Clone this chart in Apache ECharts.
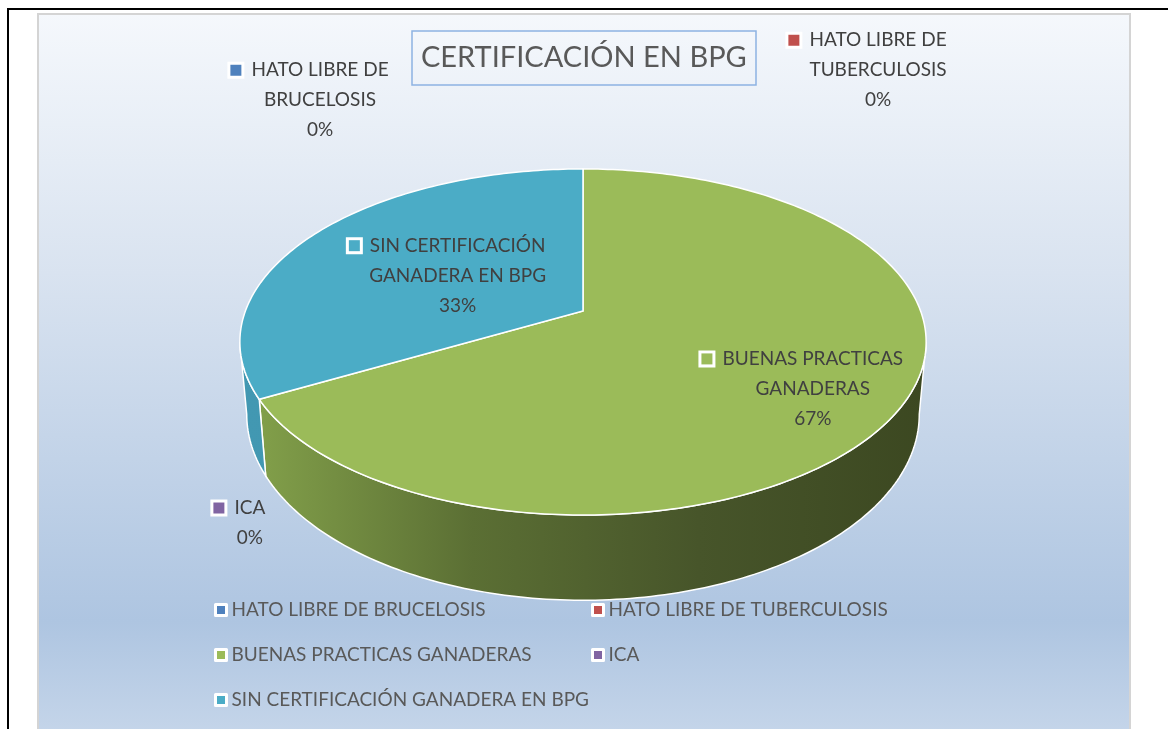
<!DOCTYPE html>
<html>
<head>
<meta charset="utf-8">
<title>Certificación en BPG</title>
<script src="https://cdn.jsdelivr.net/npm/echarts@6/dist/echarts.min.js"></script>
<style>
  html, body { margin: 0; padding: 0; background: #fff; }
  #chart { width: 1168px; height: 729px; }
</style>
</head>
<body>
<div id="chart"></div>
<script>
  // datos del grafico
  const CATEGORIES = [
    'HATO LIBRE DE BRUCELOSIS',
    'HATO LIBRE DE TUBERCULOSIS',
    'BUENAS PRACTICAS GANADERAS',
    'ICA',
    'SIN CERTIFICACIÓN GANADERA EN BPG'
  ];
  const VALUES = [0, 0, 67, 0, 33];
  // nombres partidos en lineas para las etiquetas
  const LABEL_NAMES = [
    'HATO LIBRE DE\nBRUCELOSIS',
    'HATO LIBRE DE\nTUBERCULOSIS',
    'BUENAS PRACTICAS\nGANADERAS',
    'ICA',
    'SIN CERTIFICACIÓN\nGANADERA EN BPG'
  ];
  const COLORS = ['#4f81bd', '#c0504d', '#9bbb59', '#8064a2', '#4bacc6'];
  const SIDE_COLORS = [
    ['#4a78b0', '#3c6190'],
    ['#b24a47', '#8f3a38'],
    ['#84a24b', '#5b6f34', '#47552a', '#3c4821'],
    ['#775d97', '#5f4a79'],
    ['#4298b2', '#3a8aa3']
  ];

  // geometria del pastel 3D (perspectiva simple)
  const CX = 583, CY = 311, R = 337.6, A = 167.5, K = 0.179, H0 = 70, SHRINK = 0.98;
  const SIL_R = Math.acos(-K) * 180 / Math.PI;   // borde derecho visible
  const SIL_L = 360 - SIL_R;                       // borde izquierdo visible
  const LABEL_R = [1.15, 1.15, 0.65, 1.15, 0.65];
  const LABEL_OFFSET = [[-263, -51], [295, -81], [29, 19], [44.5, 109], [53, 17]];

  const total = VALUES.reduce((s, v) => s + v, 0);

  function sliceAngles(i) {
    let start = 0;
    for (let j = 0; j < i; j++) start += VALUES[j] / total * 360;
    return [start, start + VALUES[i] / total * 360];
  }

  function project(deg, f, bottom) {
    const t = deg * Math.PI / 180;
    const c = Math.cos(t) * f, sn = Math.sin(t) * f;
    const s = 1 / (1 + K * c);
    return [
      CX + R * sn * s * (bottom ? SHRINK : 1),
      CY - A * c * s + (bottom ? H0 * s : 0)
    ];
  }

  function arc(a, b, bottom) {
    const pts = [];
    const n = Math.max(2, Math.ceil(Math.abs(b - a)));
    for (let k = 0; k <= n; k++) pts.push(project(a + (b - a) * k / n, 1, bottom));
    return pts;
  }

  function renderSide(params, api) {
    const i = params.dataIndex;
    const [a, b] = sliceAngles(i);
    const lo = Math.max(a, SIL_R), hi = Math.min(b, SIL_L);
    if (VALUES[i] <= 0 || lo >= hi) return { type: 'group', children: [] };
    const pts = arc(lo, hi, false).concat(arc(hi, lo, true));
    const cols = SIDE_COLORS[i];
    return {
      type: 'polygon',
      shape: { points: pts },
      style: {
        fill: {
          type: 'linear', x: CX - R, y: 0, x2: CX + R + 5, y2: 0, global: true,
          colorStops: cols.map((c, k) => ({ offset: k / (cols.length - 1), color: c }))
        },
        stroke: '#fff',
        lineWidth: 1.5
      }
    };
  }

  function renderTop(params, api) {
    const i = params.dataIndex;
    const [a, b] = sliceAngles(i);
    if (VALUES[i] <= 0) return { type: 'group', children: [] };
    const pts = [[CX, CY]].concat(arc(a, b, false));
    return {
      type: 'polygon',
      shape: { points: pts },
      style: { fill: COLORS[i], stroke: '#fff', lineWidth: 1.5 }
    };
  }

  function renderLabel(params, api) {
    const i = params.dataIndex;
    const [a, b] = sliceAngles(i);
    const p = project((a + b) / 2, LABEL_R[i], false);
    const lines = LABEL_NAMES[i].split('\n');
    lines[0] = '{m|}{g|}' + lines[0] + '{p|}';
    const pct = Math.round(VALUES[i] / total * 100) + '%';
    return {
      type: 'text',
      x: p[0] + LABEL_OFFSET[i][0],
      y: p[1] + LABEL_OFFSET[i][1],
      style: {
        text: lines.join('\n') + '\n' + pct,
        fill: '#404040',
        fontFamily: 'Lato',
        fontSize: 19,
        lineHeight: 30,
        align: 'center',
        verticalAlign: 'middle',
        rich: {
          m: { width: 11, height: 11, backgroundColor: COLORS[i], borderColor: '#fff', borderWidth: 3, lineHeight: 30 },
          g: { width: 10, lineHeight: 30 },
          p: { width: 21, lineHeight: 30 }
        }
      }
    };
  }

  const legendStyle = {
    orient: 'vertical',
    top: 600,
    padding: 0,
    icon: 'rect',
    itemWidth: 11,
    itemHeight: 11,
    itemGap: 25,
    itemStyle: { borderColor: '#fff', borderWidth: 3 },
    textStyle: { fontFamily: 'Lato', fontSize: 19, lineHeight: 20, color: '#595959' },
    selectedMode: false
  };

  const chart = echarts.init(document.getElementById('chart'));
  chart.setOption({
    backgroundColor: '#fff',
    animation: false,
    graphic: [
      {
        type: 'rect', z: 0,
        shape: { x: 8, y: 9, width: 1300, height: 900 },
        style: { fill: '#fff', stroke: '#000', lineWidth: 2 }
      },
      {
        type: 'rect', z: 0,
        shape: { x: 38, y: 14, width: 1092, height: 740 },
        style: {
          fill: {
            type: 'linear', x: 0, y: 0, x2: 0, y2: 1,
            colorStops: [
              { offset: 0, color: '#f5f8fc' },
              { offset: 0.35, color: '#d9e3f0' },
              { offset: 0.82, color: '#aec5e1' },
              { offset: 1, color: '#c9d8eb' }
            ]
          },
          stroke: '#d4d4d4',
          lineWidth: 2
        }
      }
    ],
    title: {
      text: 'CERTIFICACIÓN EN BPG',
      left: 412,
      top: 31,
      padding: [10, 9],
      borderColor: '#8db3e2',
      borderWidth: 1.5,
      textStyle: { fontFamily: 'Lato', fontSize: 29, fontWeight: 'normal', color: '#595959', lineHeight: 34 }
    },
    legend: [
      Object.assign({}, legendStyle, { left: 214, data: [CATEGORIES[0], CATEGORIES[2], CATEGORIES[4]] }),
      Object.assign({}, legendStyle, { left: 591, data: [CATEGORIES[1], CATEGORIES[3]] })
    ],
    series: [
      {
        // solo provee las entradas de la leyenda
        type: 'pie',
        radius: [0, 0],
        center: [-100, -100],
        silent: true,
        label: { show: false },
        labelLine: { show: false },
        data: CATEGORIES.map((name, i) => ({ name: name, value: VALUES[i], itemStyle: { color: COLORS[i] } }))
      },
      { type: 'custom', coordinateSystem: 'none', z: 3, silent: true, renderItem: renderSide, data: VALUES },
      { type: 'custom', coordinateSystem: 'none', z: 4, silent: true, renderItem: renderTop, data: VALUES },
      { type: 'custom', coordinateSystem: 'none', z: 5, silent: true, renderItem: renderLabel, data: VALUES }
    ]
  });
</script>
</body>
</html>
